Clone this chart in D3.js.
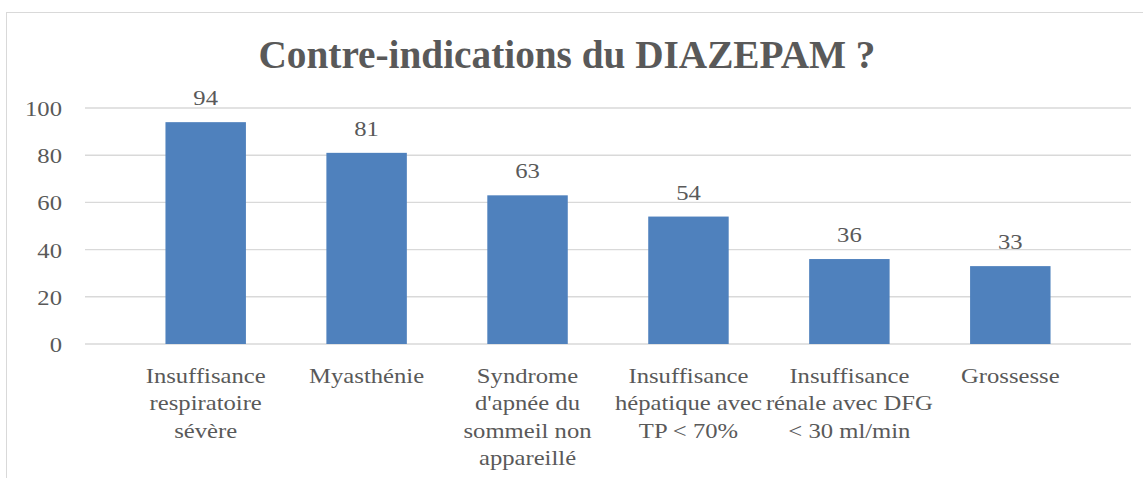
<!DOCTYPE html>
<html>
<head>
<meta charset="utf-8">
<script src="https://cdn.jsdelivr.net/npm/d3@7"></script>
<style>
  body { margin: 0; background: #fff; }
  text { font-family: "Liberation Serif", "Times New Roman", serif; fill: #595959; }
</style>
</head>
<body>
<div id="chart-container"></div>
<script>
const categories = [
    "Insuffisance\nrespiratoire\nsévère",
    "Myasthénie",
    "Syndrome\nd'apnée du\nsommeil non\nappareillé",
    "Insuffisance\nhépatique avec\nTP < 70%",
    "Insuffisance\nrénale avec DFG\n< 30 ml/min",
    "Grossesse"
];
const values = [94, 81, 63, 54, 36, 33];
const yTicks = [0, 20, 40, 60, 80, 100];
const title = "Contre-indications du DIAZEPAM ?";

const svgWidth = 1143,
    svgHeight = 478,
    plotLeft = 85,
    plotRight = 1131,
    plotTop = 108,
    plotBottom = 344,
    stretchX = 1.12;

var svg = d3.select("#chart-container").append("svg")
    .attr("width", svgWidth)
    .attr("height", svgHeight);

// the text in the picture is a bit wider than the font, so stretch it
function stretch(sel, k) {
    sel.each(function () {
        let w = this.getComputedTextLength();
        d3.select(this).attr("textLength", w * (k || stretchX)).attr("lengthAdjust", "spacingAndGlyphs");
    });
}

// outer frame
svg.append("rect")
    .attr("x", 6.5).attr("y", 12.5)
    .attr("width", svgWidth + 10).attr("height", svgHeight + 10)
    .attr("fill", "none")
    .attr("stroke", "#d9d9d9")
    .attr("stroke-width", 1);

let xScale = d3.scaleBand()
        .domain(categories)
        .range([plotLeft, plotRight])
        .padding(0.5),
    yScale = d3.scaleLinear()
        .domain([0, 100])
        .range([plotBottom, plotTop]);

// gridlines
svg.append("g")
    .selectAll("line")
    .data(yTicks)
    .join("line")
    .attr("x1", plotLeft).attr("x2", plotRight)
    .attr("y1", (d) => yScale(d)).attr("y2", (d) => yScale(d))
    .attr("stroke", "#d9d9d9")
    .attr("stroke-width", 1.4);

// y labels
svg.append("g")
    .selectAll("text")
    .data(yTicks)
    .join("text")
    .attr("x", 62)
    .attr("y", (d) => yScale(d))
    .attr("dy", "0.36em")
    .attr("text-anchor", "end")
    .style("font-size", "22px")
    .text((d) => d)
    .call(stretch);

// bars
svg.selectAll("rect.bar")
    .data(values)
    .join("rect")
    .attr("class", "bar")
    .attr("x", (d, i) => xScale(categories[i]))
    .attr("y", (d) => yScale(d))
    .attr("width", xScale.bandwidth())
    .attr("height", (d) => plotBottom - yScale(d))
    .attr("fill", "#4f81bd");

// value labels
svg.append("g")
    .selectAll("text")
    .data(values)
    .join("text")
    .attr("x", (d, i) => xScale(categories[i]) + xScale.bandwidth() / 2)
    .attr("y", (d) => yScale(d) - 17)
    .attr("text-anchor", "middle")
    .style("font-size", "22px")
    .text((d) => d)
    .call(stretch);

// category labels
let catLabels = svg.append("g")
    .selectAll("text")
    .data(categories)
    .join("text")
    .attr("text-anchor", "middle")
    .style("font-size", "22px");

catLabels.each(function (d) {
    let cx = xScale(d) + xScale.bandwidth() / 2;
    d3.select(this).selectAll("tspan")
        .data(d.split("\n"))
        .join("tspan")
        .attr("x", cx)
        .attr("y", (l, j) => 383 + j * 27.4)
        .text((l) => l)
        .call(stretch);
});

// title
svg.append("text")
    .attr("x", 567)
    .attr("y", 68)
    .attr("text-anchor", "middle")
    .style("font-size", "41px")
    .style("font-weight", "bold")
    .text(title)
    .attr("textLength", 617)
    .attr("lengthAdjust", "spacingAndGlyphs");
</script>
</body>
</html>
